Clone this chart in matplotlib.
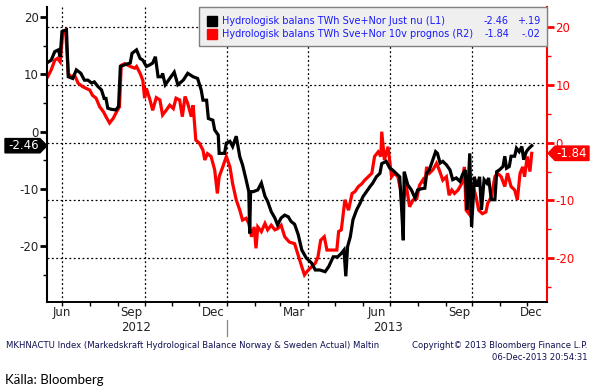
import matplotlib
matplotlib.use("Agg")
import matplotlib.pyplot as plt
import matplotlib.dates as mdates
import matplotlib.transforms as mtransforms
from matplotlib.patches import Polygon, Rectangle
import pandas as pd

# ---------------- data ----------------
black_dates = [
"2012-06-15","2012-06-19","2012-06-23","2012-06-27","2012-06-29","2012-07-01","2012-07-06","2012-07-08","2012-07-13","2012-07-17",
"2012-07-22","2012-07-26","2012-07-30","2012-08-03","2012-08-06","2012-08-10","2012-08-14","2012-08-17","2012-08-19","2012-08-21",
"2012-08-25","2012-08-30","2012-09-02","2012-09-04","2012-09-09","2012-09-15","2012-09-17","2012-09-22","2012-09-26","2012-09-29",
"2012-10-03","2012-10-07","2012-10-10","2012-10-13","2012-10-16","2012-10-20","2012-10-21","2012-10-24","2012-10-29","2012-11-03",
"2012-11-07","2012-11-13","2012-11-18","2012-11-24","2012-11-29","2012-12-03","2012-12-05","2012-12-09","2012-12-11","2012-12-16",
"2012-12-18","2012-12-22","2012-12-23","2012-12-29","2012-12-31","2013-01-04","2013-01-07","2013-01-11","2013-01-15","2013-01-18",
"2013-01-22","2013-01-25","2013-01-26","2013-01-27","2013-01-30","2013-02-04","2013-02-08","2013-02-12","2013-02-15","2013-02-19",
"2013-02-23","2013-02-26","2013-03-02","2013-03-06","2013-03-10","2013-03-13","2013-03-17","2013-03-21","2013-03-25","2013-03-30",
"2013-04-05","2013-04-09","2013-04-14","2013-04-20","2013-04-24","2013-04-29","2013-05-04","2013-05-08","2013-05-11","2013-05-13",
"2013-05-15","2013-05-18","2013-05-21","2013-05-25","2013-05-29","2013-06-01","2013-06-05","2013-06-09","2013-06-12","2013-06-16",
"2013-06-20","2013-06-22","2013-06-27","2013-07-01","2013-07-04","2013-07-08","2013-07-12","2013-07-14","2013-07-16","2013-07-17",
"2013-07-21","2013-07-25","2013-07-29","2013-08-01","2013-08-05","2013-08-09","2013-08-11","2013-08-14","2013-08-18","2013-08-21",
"2013-08-23","2013-08-26","2013-08-29","2013-09-02","2013-09-06","2013-09-09","2013-09-13","2013-09-17","2013-09-20","2013-09-23",
"2013-09-25","2013-09-28","2013-09-30","2013-10-02","2013-10-03","2013-10-06","2013-10-09","2013-10-11","2013-10-14","2013-10-17",
"2013-10-19","2013-10-22","2013-10-26","2013-10-28","2013-10-31","2013-11-04","2013-11-06","2013-11-08","2013-11-11","2013-11-13",
"2013-11-17","2013-11-19","2013-11-22","2013-11-25","2013-11-27","2013-11-30","2013-12-03","2013-12-05","2013-12-06"]
black_values = [
12.1,12.5,14.0,14.3,13.1,17.5,17.8,9.6,9.3,10.8,
10.2,9.0,9.0,8.5,8.7,7.9,7.3,5.8,5.8,4.1,
3.9,3.8,4.4,11.4,11.7,12.0,13.7,14.3,12.8,12.5,
11.4,11.7,12.0,13.1,9.6,9.6,10.2,8.2,9.3,10.4,
8.2,9.0,10.2,9.6,9.3,7.3,5.5,5.5,2.3,2.0,
0.3,-0.6,-3.8,-3.8,-2.0,-1.7,-2.6,-0.8,-4.4,-5.8,
-8.4,-10.5,-17.8,-10.5,-10.5,-10.2,-9.0,-11.3,-12.2,-14.0,
-15.1,-16.3,-15.1,-14.6,-14.9,-15.7,-16.2,-18.0,-20.7,-22.1,
-23.0,-24.2,-24.2,-24.5,-23.6,-21.9,-21.9,-21.3,-20.7,-25.3,
-20.1,-18.4,-15.4,-13.7,-12.5,-11.4,-10.5,-9.6,-9.0,-7.9,
-7.3,-5.6,-5.2,-6.4,-6.7,-7.3,-7.9,-13.1,-19.0,-7.0,
-9.3,-10.2,-11.6,-10.2,-10.0,-9.9,-7.3,-6.7,-4.9,-3.5,
-3.8,-5.5,-5.2,-5.8,-6.7,-8.4,-8.1,-8.7,-7.5,-6.7,
-13.7,-3.8,-16.6,-11.4,-7.9,-9.6,-7.9,-13.7,-8.4,-9.0,
-8.1,-11.9,-11.9,-7.0,-6.7,-6.1,-4.3,-6.4,-6.1,-4.3,
-4.3,-2.9,-3.5,-2.6,-4.9,-3.5,-2.9,-2.6,-2.46]

red_dates = [
"2012-06-15","2012-06-19","2012-06-23","2012-06-26","2012-06-29","2012-06-30","2012-07-02","2012-07-05","2012-07-08","2012-07-11",
"2012-07-15","2012-07-19","2012-07-24","2012-07-28","2012-08-01","2012-08-04","2012-08-08","2012-08-12","2012-08-16","2012-08-19",
"2012-08-23","2012-08-27","2012-08-31","2012-09-03","2012-09-05","2012-09-09","2012-09-15","2012-09-20","2012-09-22","2012-09-26",
"2012-09-29","2012-10-01","2012-10-03","2012-10-07","2012-10-10","2012-10-14","2012-10-18","2012-10-21","2012-10-25","2012-10-29",
"2012-11-02","2012-11-05","2012-11-09","2012-11-12","2012-11-15","2012-11-18","2012-11-22","2012-11-24","2012-11-27","2012-12-01",
"2012-12-05","2012-12-07","2012-12-10","2012-12-14","2012-12-18","2012-12-21","2012-12-23","2012-12-27","2012-12-31","2013-01-04",
"2013-01-07","2013-01-11","2013-01-15","2013-01-18","2013-01-22","2013-01-25","2013-01-28","2013-01-31","2013-02-02","2013-02-04",
"2013-02-08","2013-02-12","2013-02-15","2013-02-19","2013-02-23","2013-02-26","2013-03-02","2013-03-06","2013-03-11","2013-03-17",
"2013-03-21","2013-03-25","2013-03-28","2013-04-01","2013-04-05","2013-04-09","2013-04-12","2013-04-15","2013-04-19","2013-04-22",
"2013-04-27","2013-05-03","2013-05-05","2013-05-08","2013-05-12","2013-05-16","2013-05-20","2013-05-23","2013-05-27","2013-05-31",
"2013-06-03","2013-06-07","2013-06-11","2013-06-14","2013-06-18","2013-06-21","2013-06-22","2013-06-25","2013-06-29","2013-07-03",
"2013-07-06","2013-07-10","2013-07-13","2013-07-15","2013-07-19","2013-07-23","2013-07-27","2013-07-31","2013-08-03","2013-08-07",
"2013-08-09","2013-08-11","2013-08-14","2013-08-18","2013-08-22","2013-08-25","2013-08-29","2013-09-02","2013-09-05","2013-09-08",
"2013-09-11","2013-09-15","2013-09-19","2013-09-22","2013-09-24","2013-09-27","2013-09-30","2013-10-02","2013-10-05","2013-10-08",
"2013-10-12","2013-10-16","2013-10-18","2013-10-22","2013-10-26","2013-10-29","2013-11-02","2013-11-06","2013-11-09","2013-11-13",
"2013-11-17","2013-11-20","2013-11-23","2013-11-26","2013-11-28","2013-12-01","2013-12-04","2013-12-06"]
red_values = [
11.4,12.6,14.3,14.6,14.0,15.8,19.2,19.5,12.0,11.4,
11.7,10.3,9.7,9.4,9.1,8.2,7.7,6.2,5.4,4.5,
3.4,4.2,5.4,6.2,13.4,13.7,13.2,12.9,13.2,12.0,
10.8,7.7,9.4,7.4,5.6,7.8,7.4,4.8,5.6,6.5,
5.9,7.7,7.4,4.5,8.0,6.8,4.5,6.5,0.45,-0.1,
-1.3,-3.0,-1.9,-2.4,-4.7,-8.8,-5.9,-4.2,-2.4,-4.2,
-7.1,-9.9,-11.7,-13.4,-13.1,-14.0,-16.3,-14.6,-18.3,-14.6,
-15.4,-14.0,-15.1,-14.3,-15.1,-14.9,-14.3,-16.3,-17.2,-17.5,
-19.5,-21.5,-22.9,-22.1,-21.5,-20.9,-19.8,-16.9,-16.3,-18.6,
-18.6,-18.6,-15.4,-15.1,-9.9,-11.7,-8.8,-8.5,-7.6,-7.1,
-6.5,-5.9,-5.3,-2.4,-1.6,-2.4,1.9,-3.0,-0.7,-5.9,
-5.3,-5.9,-8.2,-11.7,-7.1,-11.1,-9.9,-9.7,-7.4,-6.4,
-7.1,-4.2,-5.3,-4.7,-3.6,-4.7,-6.5,-5.9,-9.1,-8.2,
-8.8,-8.2,-7.1,-4.2,-11.7,-12.3,-8.2,-7.6,-9.4,-11.7,
-12.3,-12.0,-10.5,-9.4,-5.9,-5.3,-5.9,-7.6,-5.3,-7.6,
-8.2,-9.9,-5.3,-4.2,-5.9,-2.4,-5.0,-1.84]

black_label = "Hydrologisk balans TWh Sve+Nor Just nu (L1)"
red_label = "Hydrologisk balans TWh Sve+Nor 10v prognos (R2)"
black_last, black_change = "-2.46", "+.19"
red_last, red_change = "-1.84", "-.02"

y_ticks = [20, 10, 0, -10, -20]
y_minor = [15, 5, -5, -15, -25]
month_labels = ["Jun", "Sep", "Dec", "Mar", "Jun", "Sep", "Dec"]
month_label_dates = ["2012-07-01", "2012-09-16", "2012-12-16", "2013-03-16",
                     "2013-06-16", "2013-09-16", "2013-12-06"]
quarter_lines = ["2012-07-01", "2012-10-01", "2013-01-01", "2013-04-01",
                 "2013-07-01", "2013-10-01"]
year_labels = ["2012", "2013"]
year_label_dates = ["2012-09-22", "2013-06-29"]

# ---------------- figure ----------------
W, H = 596, 389
fig = plt.figure(figsize=(W / 100, H / 100), dpi=100)
fig.patch.set_facecolor("white")

def fx(x):
    return x / W

def fy(y):
    return 1 - y / H

L, R, T, B = 47, 547, 7, 302
ax2 = fig.add_axes([fx(L), fy(B), fx(R) - fx(L), fy(T) - fy(B)])
ax = ax2.twinx()
ax.yaxis.tick_left()
ax.yaxis.set_label_position("left")
ax2.yaxis.tick_right()
ax.set_zorder(ax2.get_zorder() + 1)
ax.patch.set_visible(False)

bd = pd.to_datetime(black_dates)
rd = pd.to_datetime(red_dates)

ax2.plot(rd, red_values, color="#ff0000", lw=2.3, solid_joinstyle="miter", zorder=3)
ax.plot(bd, black_values, color="black", lw=2.3, solid_joinstyle="miter", zorder=3)

xmin = pd.Timestamp("2012-06-14 08:00")
xmax = pd.Timestamp("2013-12-23")
ax2.set_xlim(xmin, xmax)
ax.set_ylim(-29.8, 21.8)
ax2.set_ylim(-27.6, 23.5)

# grid (on lower axes)
for v in y_ticks:
    ax2.axhline(v, color="black", lw=0.9, ls=(0, (1.5, 2)), zorder=1)
for d in quarter_lines:
    ax2.axvline(pd.Timestamp(d), color="black", lw=0.9, ls=(0, (1.5, 2)), zorder=1)

# spines
for a in (ax, ax2):
    a.spines["top"].set_visible(False)
ax.spines["right"].set_visible(False)
ax2.spines["left"].set_visible(False)
ax.spines["left"].set_color("black")
ax.spines["left"].set_linewidth(1.5)
ax.spines["bottom"].set_linewidth(1.2)
ax2.spines["right"].set_color("#ff0000")
ax2.spines["right"].set_linewidth(1.5)
ax2.spines["bottom"].set_linewidth(1.2)

# y ticks
ax.set_yticks(y_ticks)
ax.set_yticks(y_minor, minor=True)
ax.set_yticklabels([str(v) for v in y_ticks])
ax.tick_params(axis="y", which="major", length=5, width=2, color="black",
               labelsize=8.5, labelcolor="#222222", pad=1)
ax.tick_params(axis="y", which="minor", length=3, width=1, color="black")
ax2.set_yticks(y_ticks)
ax2.set_yticks(y_minor, minor=True)
ax2.set_yticklabels([str(v) for v in y_ticks])
ax2.tick_params(axis="y", which="major", length=5, width=2, color="#ff0000",
                labelsize=8.5, labelcolor="#ff0000", pad=1)
ax2.tick_params(axis="y", which="minor", length=3, width=1, color="#ff0000")

# x ticks: monthly stubs, no tick labels (labels drawn as text)
ax2.xaxis.set_major_locator(mdates.MonthLocator())
ax2.xaxis.set_major_formatter(plt.NullFormatter())
for a in (ax, ax2):
    a.tick_params(axis="x", which="major", length=3, width=1, color="black",
                  labelbottom=False)
    a.tick_params(axis="x", which="minor", length=0)

trans_x = mtransforms.blended_transform_factory(ax.transData, ax.transAxes)
for lab, d in zip(month_labels, month_label_dates):
    ax.text(pd.Timestamp(d), -0.037, lab, transform=trans_x, ha="center",
            va="center", fontsize=8.5, color="#222222", clip_on=False)
for lab, d in zip(year_labels, year_label_dates):
    ax.text(pd.Timestamp(d), -0.087, lab, transform=trans_x, ha="center",
            va="center", fontsize=8.5, color="#222222", clip_on=False)
ax.plot([pd.Timestamp("2013-01-01")] * 2, [-0.06, -0.115], transform=trans_x,
        color="#888888", lw=0.9, clip_on=False)

# callouts
tl = mtransforms.blended_transform_factory(ax.transAxes, ax.transData)
v = float(black_last)
hh = 1.25
poly = Polygon([(-0.084, v - hh), (-0.014, v - hh), (0.0, v), (-0.014, v + hh),
                (-0.084, v + hh)], closed=True, transform=tl, facecolor="black",
               edgecolor="black", clip_on=False, zorder=10)
ax.add_patch(poly)
ax.text(-0.047, v, black_last, transform=tl, ha="center", va="center",
        color="white", fontsize=8.5, clip_on=False, zorder=11)

tr = mtransforms.blended_transform_factory(ax2.transAxes, ax2.transData)
v2 = float(red_last)
poly2 = Polygon([(1.002, v2), (1.016, v2 + hh), (1.084, v2 + hh), (1.084, v2 - hh),
                 (1.016, v2 - hh)], closed=True, transform=tr, facecolor="#ff0000",
                edgecolor="#ff0000", clip_on=False, zorder=10)
ax2.add_patch(poly2)
ax2.text(1.049, v2, red_last, transform=tr, ha="center", va="center",
         color="white", fontsize=8.5, clip_on=False, zorder=11)

# legend box
lx0, ly0, lx1, ly1 = 199, 7, 547, 46
fig.add_artist(Rectangle((fx(lx0), fy(ly1)), fx(lx1) - fx(lx0), fy(ly0) - fy(ly1),
                         transform=fig.transFigure, facecolor="#efefef",
                         edgecolor="#808080", lw=1.0, zorder=20))
legend_rows = [("black", black_label, black_last, black_change, 21),
               ("#ff0000", red_label, red_last, red_change, 34)]
for col, lab, last, chg, yy in legend_rows:
    fig.add_artist(Rectangle((fx(207), fy(yy + 5)), fx(10), 10 / H,
                             transform=fig.transFigure, facecolor=col,
                             edgecolor=col, zorder=21))
    fig.text(fx(222), fy(yy), lab, fontsize=7, color="#1a1aff", ha="left",
             va="center", zorder=22)
    fig.text(fx(509), fy(yy), last, fontsize=7, color="#1a1aff", ha="right",
             va="center", zorder=22)
    fig.text(fx(540), fy(yy), chg, fontsize=7, color="#1a1aff", ha="right",
             va="center", zorder=22)

# footer
fig.text(fx(6), fy(345),
         "MKHNACTU Index (Markedskraft Hydrological Balance Norway & Sweden Actual) Maltin",
         fontsize=6.1, color="#101050", ha="left", va="center")
fig.text(fx(588), fy(345), "Copyright\u00a9 2013 Bloomberg Finance L.P.",
         fontsize=6.1, color="#101050", ha="right", va="center")
fig.text(fx(588), fy(357), "06-Dec-2013 20:54:31",
         fontsize=6.1, color="#101050", ha="right", va="center")
fig.text(fx(5), fy(380), "K\u00e4lla: Bloomberg", fontsize=9.5, color="black",
         ha="left", va="center", family=["Liberation Sans Narrow", "Lato", "DejaVu Sans"])

fig.savefig("out.png", dpi=100)
